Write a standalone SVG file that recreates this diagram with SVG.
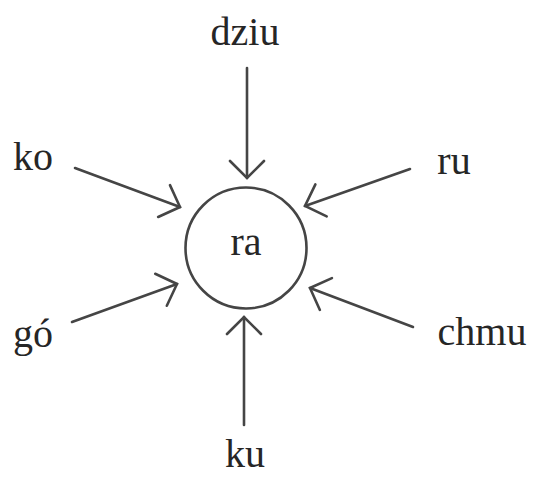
<svg xmlns="http://www.w3.org/2000/svg" width="534" height="477" viewBox="0 0 534 477">
<style>
.lbl{font-family:"Liberation Serif","Times New Roman",serif;font-size:40px;fill:#262626;text-anchor:middle}
.edge{stroke:#454545;stroke-width:2.6;fill:none;stroke-linecap:round}
</style>
<defs>
<marker id="arr" markerUnits="userSpaceOnUse" markerWidth="44" markerHeight="44" viewBox="-22 -22 44 44" refX="0" refY="0" orient="auto" overflow="visible">
<path d="M -17 -17 L 0 0 L -17 17" fill="none" stroke="#454545" stroke-width="2.6" stroke-linecap="round" stroke-linejoin="miter"/>
</marker>
</defs>
<rect width="534" height="477" fill="#ffffff"/>
<g id="connectors">
<line class="edge" x1="247" y1="68" x2="247" y2="178" marker-end="url(#arr)"/>
<line class="edge" x1="75" y1="168" x2="180" y2="207" marker-end="url(#arr)"/>
<line class="edge" x1="410" y1="169" x2="305" y2="206" marker-end="url(#arr)"/>
<line class="edge" x1="72" y1="322" x2="177" y2="284" marker-end="url(#arr)"/>
<line class="edge" x1="413" y1="327" x2="310" y2="288" marker-end="url(#arr)"/>
<line class="edge" x1="244" y1="425" x2="244" y2="317" marker-end="url(#arr)"/>
</g>
<g id="ra">
<circle cx="246" cy="248" r="60.5" fill="none" stroke="#454545" stroke-width="2.6"/>
<text class="lbl" x="246" y="255">ra</text>
</g>
<g id="dziu"><text class="lbl" x="245" y="45">dziu</text></g>
<g id="ko"><text class="lbl" x="33" y="170">ko</text></g>
<g id="ru"><text class="lbl" x="454" y="174">ru</text></g>
<g id="go"><text class="lbl" x="33" y="347">gó</text></g>
<g id="chmu"><text class="lbl" x="482" y="345">chmu</text></g>
<g id="ku"><text class="lbl" x="245" y="467">ku</text></g>
</svg>
